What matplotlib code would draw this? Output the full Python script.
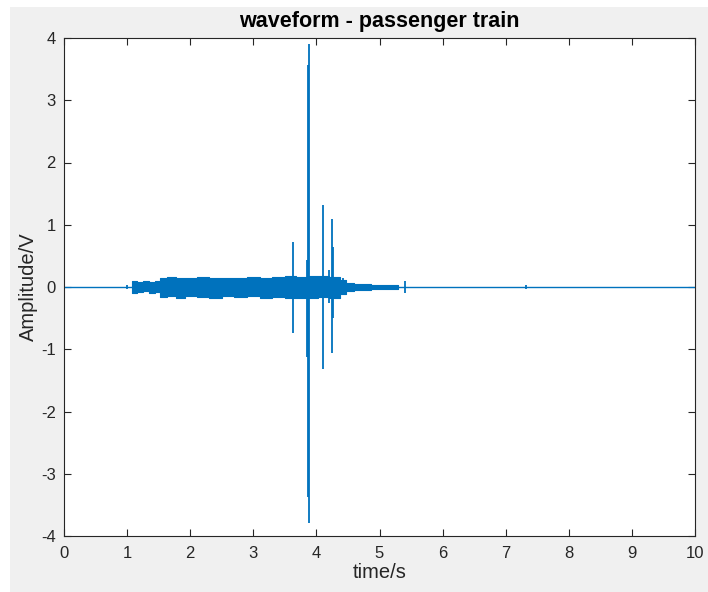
import matplotlib
matplotlib.use('Agg')
import matplotlib.pyplot as plt
from matplotlib.patches import Rectangle

# quiet baseline of the recording
base_t = [0.0, 10.0]
base_v = [0.0, 0.0]

# envelope of the dense noise band
band_t = [1.07, 1.10, 1.20, 1.30, 1.40, 1.50, 1.55, 1.70, 1.85, 2.00, 2.20, 2.40, 2.60,
          2.80, 3.00, 3.20, 3.40, 3.60, 3.75, 3.95, 4.10, 4.30, 4.45, 4.50, 4.70,
          4.85, 4.88, 5.10, 5.30]
band_hi = [0.08, 0.09, 0.08, 0.09, 0.08, 0.09, 0.15, 0.16, 0.14, 0.15, 0.16, 0.14, 0.15,
           0.14, 0.16, 0.15, 0.16, 0.17, 0.16, 0.18, 0.17, 0.16, 0.12, 0.06, 0.05,
           0.05, 0.03, 0.03, 0.03]
band_lo = [-0.08, -0.09, -0.08, -0.07, -0.09, -0.08, -0.16, -0.15, -0.17, -0.15, -0.16, -0.17, -0.15,
           -0.16, -0.15, -0.17, -0.16, -0.17, -0.18, -0.17, -0.16, -0.17, -0.12, -0.06, -0.05,
           -0.05, -0.03, -0.03, -0.03]

# isolated spikes: time, positive peak, negative peak
spike_t = [1.00, 3.63, 3.85, 3.87, 3.89, 4.11, 4.20, 4.24, 4.26, 4.42, 5.40, 7.32]
spike_hi = [0.03, 0.73, 0.43, 3.57, 3.91, 1.32, 0.27, 1.10, 0.65, 0.14, 0.10, 0.03]
spike_lo = [-0.03, -0.74, -1.12, -3.37, -3.79, -1.31, -0.26, -1.06, -0.50, -0.08, -0.10, -0.03]

blue = '#0072BD'
plt.rcParams['font.family'] = ['Liberation Sans', 'DejaVu Sans']
plt.rcParams['axes.unicode_minus'] = False

fig = plt.figure(figsize=(7.08, 5.92), dpi=100, facecolor='white')
fig.patches.append(Rectangle((10 / 708, 0), 1, 1 - 7 / 592, transform=fig.transFigure,
                             facecolor='#f0f0f0', edgecolor='none', zorder=-10))
ax = fig.add_axes([64 / 708, 1 - 536 / 592, (695 - 64) / 708, (536 - 38) / 592])

ax.plot(base_t, base_v, color=blue, lw=1.0)
ax.fill_between(band_t, band_lo, band_hi, step='mid', color=blue, lw=0.8)
ax.vlines(spike_t, spike_lo, spike_hi, color=blue, lw=1.3)

ax.set_xlim(0, 10)
ax.set_ylim(-4, 4)
ax.set_xticks(range(0, 11))
ax.set_yticks(range(-4, 5))
ax.tick_params(direction='in', length=5, top=True, right=True, labelsize=12,
               colors='#262626', width=0.8)
ax.tick_params(axis='x', pad=7)
ax.tick_params(axis='y', pad=6)
for s in ax.spines.values():
    s.set_color('#262626')
    s.set_linewidth(0.8)

ax.set_title('waveform - passenger train', fontsize=15.5, fontweight='bold', pad=8)
ax.set_xlabel('time/s', fontsize=14.5, color='#262626', labelpad=2)
ax.set_ylabel('Amplitude/V', fontsize=14.5, color='#262626', labelpad=2)

fig.savefig('out.png', dpi=100, facecolor=fig.get_facecolor())
